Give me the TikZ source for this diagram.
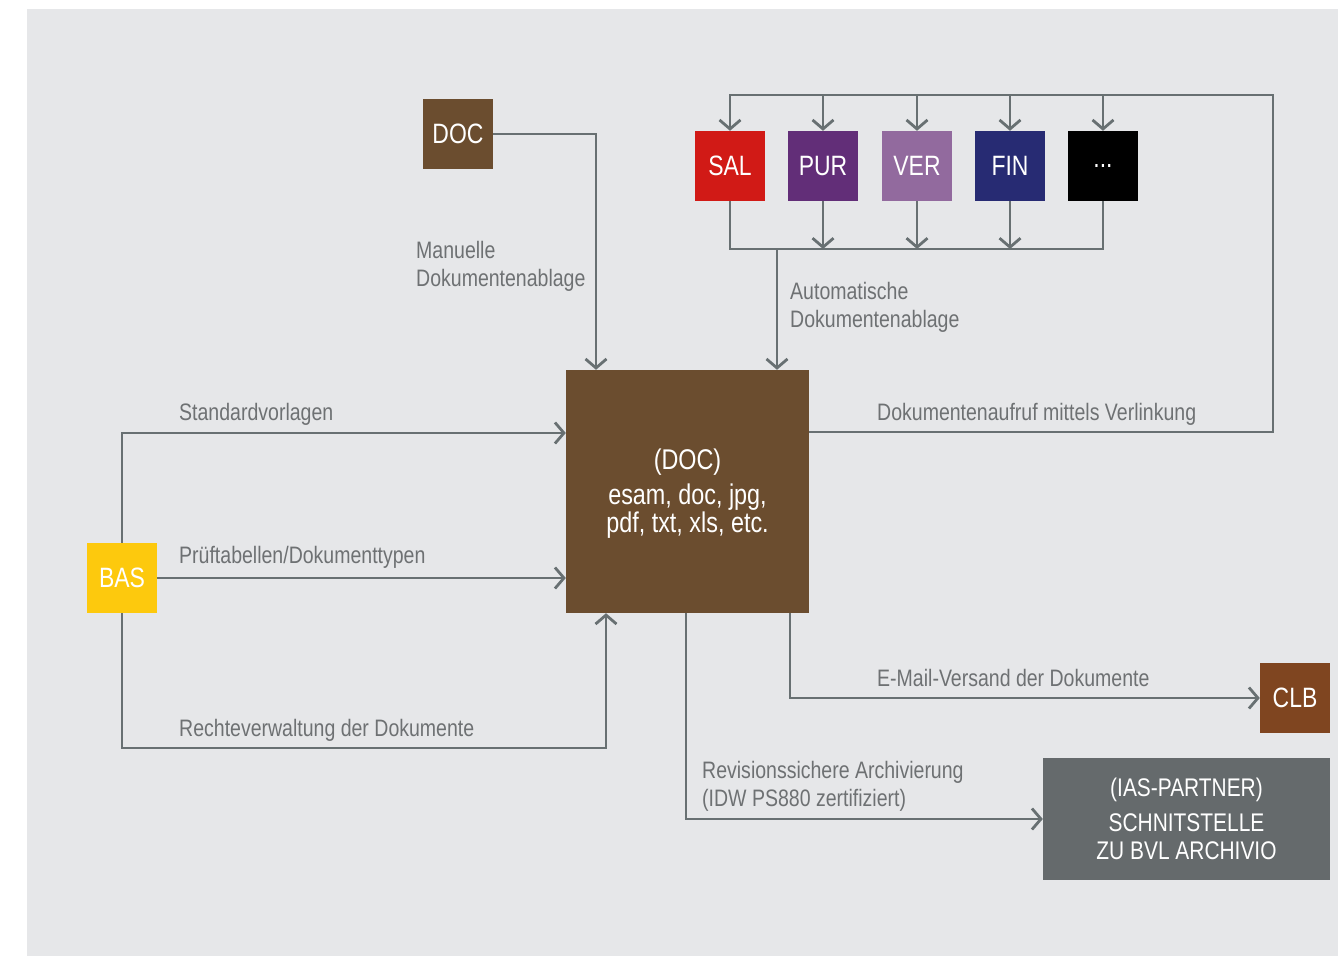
\documentclass[tikz,border=0pt]{standalone}
\usepackage{fontspec}
\setmainfont{Liberation Sans}[FakeStretch=0.82]
\usetikzlibrary{arrows.meta}

\definecolor{bgcol}{HTML}{E6E7E9}
\definecolor{linecol}{HTML}{687072}
\definecolor{labelcol}{HTML}{6E7173}
\definecolor{docbrown}{HTML}{6B4D2F}
\definecolor{salred}{HTML}{D11A16}
\definecolor{purcol}{HTML}{622E78}
\definecolor{vercol}{HTML}{926A9E}
\definecolor{fincol}{HTML}{272B73}
\definecolor{clbcol}{HTML}{7F4520}
\definecolor{iascol}{HTML}{656A6C}
\definecolor{basyellow}{HTML}{FDC90D}

\tikzset{
  modbox/.style={minimum width=70pt, minimum height=70pt, inner sep=0pt,
    text=white, font=\fontsize{28}{30}\selectfont},
  conn/.style={draw=linecol, line width=2.8pt},
  arr/.style={conn, -{Straight Barb[length=9pt,width=21pt,line width=2.8pt]}},
  lbl/.style={text=labelcol, inner sep=0pt, anchor=base west, align=left,
    font=\fontsize{23.8}{28}\selectfont},
}

\begin{document}
\begin{tikzpicture}[x=1pt,y=-1pt]
  % page and panel
  \useasboundingbox (0,0) rectangle (1338,956);
  \fill[bgcol] (27,9) rectangle (1338,956);

  % module boxes
  \node[modbox, fill=docbrown] (docsm) at (458,134) {DOC};
  \node[modbox, fill=salred]   (sal)   at (730,166) {SAL};
  \node[modbox, fill=purcol]   (pur)   at (823,166) {PUR};
  \node[modbox, fill=vercol]   (ver)   at (917,166) {VER};
  \node[modbox, fill=fincol]   (fin)   at (1010,166) {FIN};
  \node[modbox, fill=black]    (more)  at (1103,166) {...};
  \node[modbox, fill=basyellow] (bas)  at (122,578) {BAS};
  \node[modbox, fill=clbcol]   (clb)   at (1295,698) {CLB};

  % central document store (the strut lowers the text block slightly)
  \node[fill=docbrown, minimum width=243pt, minimum height=243pt, inner sep=0pt,
        text=white, align=center, font=\fontsize{28.5}{28}\selectfont]
        (big) at (687.5,491.5) {\rule{0pt}{24pt}(DOC)\\[7pt]esam, doc, jpg,\\pdf, txt, xls, etc.};

  % archive interface
  \node[fill=iascol, minimum width=287pt, minimum height=122pt, inner sep=0pt,
        text=white, align=center, font=\fontsize{25.5}{28}\selectfont]
        (ias) at (1186.5,819) {(IAS-PARTNER)\\[7pt]SCHNITSTELLE\\ZU BVL ARCHIVIO};

  % routing points
  \coordinate (topright) at (1273,95);
  \coordinate (busl) at (730,249);
  \coordinate (autoin) at (777,249);
  \coordinate (rvcorner) at (606,748);

  % linked document call: big box -> modules
  \draw[arr] ([yshift=59.5pt]big.east) -| (topright) -| (sal.north);
  \foreach \m in {pur,ver,fin,more}
    \draw[arr] (\m.north |- topright) -- (\m.north);

  % automatic filing: modules -> bus -> big box
  \draw[conn] (sal.south) |- (more.south |- busl) -- (more.south);
  \foreach \m in {pur,ver,fin}
    \draw[arr] (\m.south) -- (\m.south |- busl);
  \draw[arr] (autoin) -- (autoin |- big.north);

  % manual filing
  \draw[arr] (docsm.east) -| ([xshift=-91.5pt]big.north);

  % BAS connections
  \draw[arr] (bas.north) |- ([yshift=58.5pt]big.west);
  \draw[arr] (bas.east) -- (bas.east -| big.west);
  \draw[arr] (bas.south) |- (rvcorner) -- (rvcorner |- big.south);

  % outgoing
  \draw[arr] ([xshift=-1.5pt]big.south) |- (ias.west);
  \draw[arr] ([xshift=102.5pt]big.south) |- (clb.west);

  % labels (multi-line labels are anchored on their last baseline)
  \node[lbl] (lman) at (416,286) {Manuelle\\Dokumentenablage};
  \node[lbl] (lauto) at (790,327) {Automatische\\Dokumentenablage};
  \node[lbl] (lstd) at (179,420) {Standardvorlagen};
  \node[lbl] (lpruef) at (179,563) {Prüftabellen/Dokumenttypen};
  \node[lbl] (lrecht) at (179,736) {Rechteverwaltung der Dokumente};
  \node[lbl] (llink) at (877,420) {Dokumentenaufruf mittels Verlinkung};
  \node[lbl] (lmail) at (877,686) {E-Mail-Versand der Dokumente};
  \node[lbl] (lrev) at (702,806) {Revisionssichere Archivierung\\(IDW PS880 zertifiziert)};
\end{tikzpicture}
\end{document}
